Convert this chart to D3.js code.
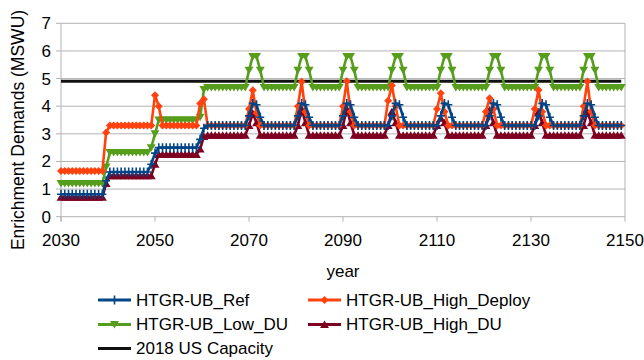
<!DOCTYPE html>
<html>
<head>
<meta charset="utf-8">
<script src="https://cdn.jsdelivr.net/npm/d3@7"></script>
<style>
  body { margin: 0; background: #fff; }
  svg { display: block; font-family: "Liberation Sans", Arial, sans-serif; }
</style>
</head>
<body>
<div id="chart"></div>
<script>
// --- dati (passo 0.8 anni, 150 punti) ---
const startYear = 2030;
const yearStep = 0.8;

const refValues = [
  0.81,0.81,0.81,0.81,0.81,0.81,0.81,0.81,0.81,0.81,
  0.81,0.81,1.3,1.62,1.62,1.62,1.62,1.62,1.62,1.62,
  1.62,1.62,1.62,1.62,1.9,2.3,2.5,2.5,2.5,2.5,
  2.5,2.5,2.5,2.5,2.5,2.5,2.5,2.8,3.2,3.3,
  3.3,3.3,3.3,3.3,3.3,3.3,3.3,3.3,3.3,3.3,
  3.65,4.1,4.05,3.6,3.3,3.3,3.3,3.3,3.3,3.3,
  3.3,3.3,3.3,3.65,4.1,4.05,3.6,3.3,3.3,3.3,
  3.3,3.3,3.3,3.3,3.3,3.65,4.1,4.05,3.6,3.3,
  3.3,3.3,3.3,3.3,3.3,3.3,3.3,3.3,3.65,4.1,
  4.05,3.6,3.3,3.3,3.3,3.3,3.3,3.3,3.3,3.3,
  3.3,3.65,4.1,4.05,3.6,3.3,3.3,3.3,3.3,3.3,
  3.3,3.3,3.3,3.3,3.65,4.1,4.05,3.6,3.3,3.3,
  3.3,3.3,3.3,3.3,3.3,3.3,3.3,3.65,4.1,4.05,
  3.6,3.3,3.3,3.3,3.3,3.3,3.3,3.3,3.3,3.65,
  4.1,4.05,3.6,3.3,3.3,3.3,3.3,3.3,3.3,3.3
];

const highDeployValues = [
  1.65,1.65,1.65,1.65,1.65,1.65,1.65,1.65,1.65,1.65,
  1.65,1.65,3.05,3.3,3.3,3.3,3.3,3.3,3.3,3.3,
  3.3,3.3,3.3,3.3,3.3,4.4,4.0,3.3,3.3,3.3,
  3.3,3.3,3.3,3.3,3.3,3.3,3.3,4.1,4.25,3.3,
  3.3,3.3,3.3,3.3,3.3,3.3,3.3,3.3,3.3,3.3,
  3.9,4.58,3.75,3.3,3.3,3.3,3.3,3.3,3.3,3.3,
  3.3,3.3,3.3,4.0,4.88,3.8,3.3,3.3,3.3,3.3,
  3.3,3.3,3.3,3.3,3.3,4.0,4.9,3.8,3.3,3.3,
  3.3,3.3,3.3,3.3,3.3,3.3,3.3,4.2,4.75,4.0,
  3.3,3.3,3.3,3.3,3.3,3.3,3.3,3.3,3.3,3.3,
  3.9,4.47,3.8,3.3,3.3,3.3,3.3,3.3,3.3,3.3,
  3.3,3.3,3.3,3.8,4.29,3.9,3.3,3.3,3.3,3.3,
  3.3,3.3,3.3,3.3,3.3,3.3,3.9,4.59,3.8,3.3,
  3.3,3.3,3.3,3.3,3.3,3.3,3.3,3.3,3.3,4.0,
  4.89,3.8,3.3,3.3,3.3,3.3,3.3,3.3,3.3,3.3
];

const lowDuValues = [
  1.2,1.2,1.2,1.2,1.2,1.2,1.2,1.2,1.2,1.2,
  1.2,1.2,1.8,2.32,2.32,2.32,2.32,2.32,2.32,2.32,
  2.32,2.32,2.32,2.32,2.5,3.0,3.5,3.5,3.5,3.5,
  3.5,3.5,3.5,3.5,3.5,3.5,3.5,3.6,4.6,4.68,
  4.68,4.68,4.68,4.68,4.68,4.68,4.68,4.68,4.68,4.68,
  5.3,5.8,5.8,5.3,4.68,4.68,4.68,4.68,4.68,4.68,
  4.68,4.68,4.68,5.3,5.8,5.8,5.3,4.68,4.68,4.68,
  4.68,4.68,4.68,4.68,4.68,5.3,5.8,5.8,5.3,4.68,
  4.68,4.68,4.68,4.68,4.68,4.68,4.68,4.68,5.3,5.8,
  5.8,5.3,4.68,4.68,4.68,4.68,4.68,4.68,4.68,4.68,
  4.68,5.3,5.8,5.8,5.3,4.68,4.68,4.68,4.68,4.68,
  4.68,4.68,4.68,4.68,5.3,5.8,5.8,5.3,4.68,4.68,
  4.68,4.68,4.68,4.68,4.68,4.68,4.68,5.3,5.8,5.8,
  5.3,4.68,4.68,4.68,4.68,4.68,4.68,4.68,4.68,5.3,
  5.8,5.8,5.3,4.68,4.68,4.68,4.68,4.68,4.68,4.68
];

const highDuValues = [
  0.7,0.7,0.7,0.7,0.7,0.7,0.7,0.7,0.7,0.7,
  0.7,0.7,1.2,1.48,1.48,1.48,1.48,1.48,1.48,1.48,
  1.48,1.48,1.48,1.48,1.48,1.9,2.25,2.25,2.25,2.25,
  2.25,2.25,2.25,2.25,2.25,2.25,2.25,2.45,2.9,2.95,
  2.95,2.95,2.95,2.95,2.95,2.95,2.95,2.95,2.95,2.95,
  3.3,3.74,3.4,2.95,2.95,2.95,2.95,2.95,2.95,2.95,
  2.95,2.95,2.95,3.3,3.9,3.4,2.95,2.95,2.95,2.95,
  2.95,2.95,2.95,2.95,2.95,3.3,3.9,3.4,2.95,2.95,
  2.95,2.95,2.95,2.95,2.95,2.95,2.95,3.3,3.8,3.4,
  2.95,2.95,2.95,2.95,2.95,2.95,2.95,2.95,2.95,2.95,
  3.3,3.56,3.4,2.95,2.95,2.95,2.95,2.95,2.95,2.95,
  2.95,2.95,2.95,3.3,3.86,3.4,2.95,2.95,2.95,2.95,
  2.95,2.95,2.95,2.95,2.95,2.95,3.3,3.8,3.4,2.95,
  2.95,2.95,2.95,2.95,2.95,2.95,2.95,2.95,2.95,3.3,
  3.8,3.4,2.95,2.95,2.95,2.95,2.95,2.95,2.95,2.95
];

const capacityValue = 4.9;
const xTicks = [2030, 2050, 2070, 2090, 2110, 2130, 2150];
const yTicks = [0, 1, 2, 3, 4, 5, 6, 7];

const years = refValues.map((v, i) => startYear + i * yearStep);

const series = [
  { name: 'HTGR-UB_Ref', values: refValues, color: '#004586', marker: 'cross' },
  { name: 'HTGR-UB_High_Deploy', values: highDeployValues, color: '#ff420e', marker: 'diamond' },
  { name: 'HTGR-UB_Low_DU', values: lowDuValues, color: '#579d1c', marker: 'down' },
  { name: 'HTGR-UB_High_DU', values: highDuValues, color: '#7e0021', marker: 'up' }
];

// --- impostazioni SVG ---
const width = 644, height = 360;
const plot = { left: 61, right: 625, top: 23.3, bottom: 216.7 };

const svg = d3.select('#chart').append('svg')
  .attr('width', width).attr('height', height);

const xScale = d3.scaleLinear().domain([2030, 2150]).range([plot.left, plot.right]);
const yScale = d3.scaleLinear().domain([0, 7]).range([plot.bottom, plot.top]);

// griglia orizzontale
svg.append('g').selectAll('line').data(yTicks).join('line')
  .attr('x1', plot.left - 5).attr('x2', plot.right)
  .attr('y1', d => yScale(d)).attr('y2', d => yScale(d))
  .attr('stroke', '#b3b3b3').attr('stroke-width', 1);

// assi
svg.append('line').attr('x1', plot.left).attr('x2', plot.left)
  .attr('y1', plot.top).attr('y2', plot.bottom + 5).attr('stroke', '#b3b3b3');
svg.append('line').attr('x1', plot.right).attr('x2', plot.right)
  .attr('y1', plot.top).attr('y2', plot.bottom).attr('stroke', '#b3b3b3');
svg.append('g').selectAll('line').data(xTicks).join('line')
  .attr('x1', d => xScale(d)).attr('x2', d => xScale(d))
  .attr('y1', plot.bottom).attr('y2', plot.bottom + 5)
  .attr('stroke', '#b3b3b3');

const labelFont = 17;
svg.append('g').selectAll('text').data(yTicks).join('text')
  .attr('x', plot.left - 10).attr('y', d => yScale(d)).attr('dy', '0.35em')
  .attr('text-anchor', 'end').attr('font-size', labelFont).text(d => d);

svg.append('g').selectAll('text').data(xTicks).join('text')
  .attr('x', d => xScale(d)).attr('y', 246)
  .attr('text-anchor', 'middle').attr('font-size', labelFont).text(d => d);

svg.append('text').attr('x', (plot.left + plot.right) / 2).attr('y', 277)
  .attr('text-anchor', 'middle').attr('font-size', labelFont).text('year');

svg.append('text').attr('transform', 'translate(18,130) rotate(-90)')
  .attr('dy', '0.35em').attr('text-anchor', 'middle').attr('font-size', 17.5)
  .text('Enrichment Demands (MSWU)');

// simboli
function drawMarker(g, type, color) {
  if (type === 'cross') {
    g.append('path').attr('d', 'M-4,0H4M0,-4.5V4.5')
      .attr('stroke', color).attr('stroke-width', 1.6).attr('fill', 'none');
  } else if (type === 'diamond') {
    g.append('path').attr('d', 'M0,-4L4,0L0,4L-4,0Z').attr('fill', color);
  } else if (type === 'down') {
    g.append('path').attr('d', 'M-4.5,-3.5L4.5,-3.5L0,4Z').attr('fill', color);
  } else {
    g.append('path').attr('d', 'M-4.5,3.5L4.5,3.5L0,-4Z').attr('fill', color);
  }
}

const line = d3.line().x(d => xScale(d.x)).y(d => yScale(d.y));

// linea capacità
svg.append('path')
  .attr('d', line([{ x: years[0], y: capacityValue }, { x: years[years.length - 1], y: capacityValue }]))
  .attr('stroke', '#111').attr('stroke-width', 3).attr('fill', 'none');

// ordine di disegno: ultima serie sotto, Ref sopra
const drawOrder = [series[3], series[2], series[1], series[0]];
drawOrder.forEach(s => {
  const pts = s.values.map((v, i) => ({ x: years[i], y: v }));
  const g = svg.append('g');
  g.append('path').attr('d', line(pts))
    .attr('stroke', s.color).attr('stroke-width', 2.6).attr('fill', 'none')
    .attr('stroke-linejoin', 'round');
  g.selectAll('g.m').data(pts).join('g').attr('class', 'm')
    .attr('transform', d => `translate(${xScale(d.x)},${yScale(d.y)})`)
    .each(function() { drawMarker(d3.select(this), s.marker, s.color); });
});

// legenda
const legendItems = [
  { name: series[0].name, color: series[0].color, marker: 'cross', col: 0, row: 0 },
  { name: series[1].name, color: series[1].color, marker: 'diamond', col: 1, row: 0 },
  { name: series[2].name, color: series[2].color, marker: 'down', col: 0, row: 1 },
  { name: series[3].name, color: series[3].color, marker: 'up', col: 1, row: 1 },
  { name: '2018 US Capacity', color: '#111', marker: null, col: 0, row: 2 }
];
const legendX = [98, 308];
const legendY = [300, 324.5, 348.5];
legendItems.forEach(it => {
  const g = svg.append('g').attr('transform', `translate(${legendX[it.col]},${legendY[it.row]})`);
  g.append('line').attr('x1', 0).attr('x2', 33).attr('stroke', it.color).attr('stroke-width', 3);
  if (it.marker) {
    const m = g.append('g').attr('transform', 'translate(16.5,0)');
    drawMarker(m, it.marker, it.color);
  }
  g.append('text').attr('x', 38).attr('dy', '0.35em').attr('font-size', labelFont).text(it.name);
});
</script>
</body>
</html>
